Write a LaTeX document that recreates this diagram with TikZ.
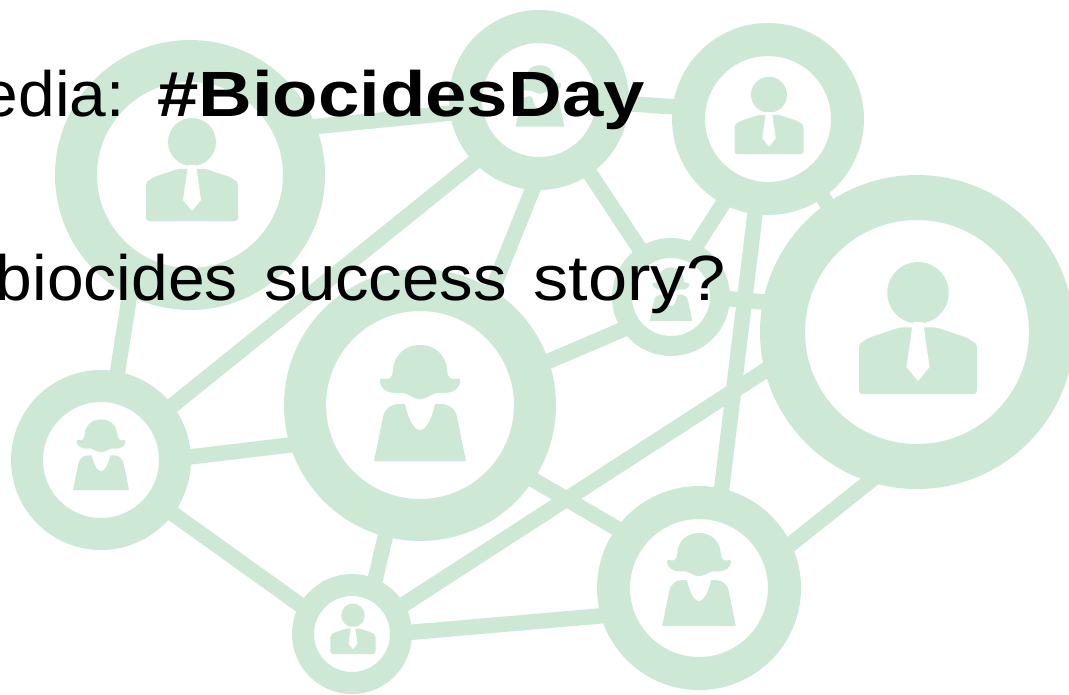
\documentclass[tikz,border=0pt]{standalone}
\usepackage{fontspec}
\usepackage{graphicx}
\setmainfont[WordSpace=1.5]{Liberation Sans}
\usetikzlibrary{backgrounds}
\definecolor{netgreen}{HTML}{CDE9D6}
\tikzset{
  x=0.75pt,y=-0.75pt,
  ring/.style n args={2}{circle,draw=netgreen,fill=white,inner sep=0pt,outer sep=0pt,
    minimum size={(#1+#2)*0.75pt},line width={(#1-#2)*0.75pt}},
  link/.style={draw=netgreen,line width=11.6pt,line cap=butt},
  lab/.style={anchor=base west,inner sep=0pt,outer sep=0pt,text=black,font=\fontsize{48pt}{54pt}\selectfont},
  pics/man/.style={code={
    \fill[netgreen] (0,-33) circle[radius=24];
    \fill[netgreen,rounded corners=2] (-46,46) -- (-46,7) -- (-38,2) -- (-14,-6) -- (14,-6) -- (38,2) -- (46,7) -- (46,46) -- cycle;
    \fill[white] (-4,-10) -- (4,-10) -- (9,25) -- (0,36) -- (-9,25) -- cycle;
  }},
  pics/woman/.style={code={
    \fill[netgreen] (0,-60) .. controls (-17,-60) and (-26,-48) .. (-27,-36)
      .. controls (-27,-29) and (-30,-24) .. (-36,-26) .. controls (-38,-27) and (-40,-27) .. (-40,-24)
      .. controls (-40,-16) and (-32,-12) .. (-24,-12) -- (-16,-12)
      .. controls (-10,-10) and (-6,-6) .. (0,-6)
      .. controls (6,-6) and (10,-10) .. (16,-12) -- (24,-12)
      .. controls (32,-12) and (40,-16) .. (40,-24) .. controls (40,-27) and (38,-27) .. (36,-26)
      .. controls (30,-24) and (27,-29) .. (27,-36)
      .. controls (26,-48) and (17,-60) .. (0,-60) -- cycle;
    \fill[netgreen] (-46,56) -- (-37,12) .. controls (-35,3) and (-28,-1) .. (-22,-1) -- (-15,-1)
      .. controls (-13,10) and (-7,25) .. (0,25) .. controls (7,25) and (13,10) .. (15,-1)
      -- (22,-1) .. controls (28,-1) and (35,3) .. (37,12) -- (46,56) -- cycle;
  }},
}
\begin{document}
\begin{tikzpicture}
\useasboundingbox (0,0) rectangle (1069,694);
% rings
\node[ring={135}{93}]  (A) at (190,175) {};
\node[ring={90}{57}]   (B) at (539,100) {};
\node[ring={96}{63}]   (C) at (768,119) {};
\node[ring={157}{112}] (D) at (917,332) {};
\node[ring={59}{39}]   (E) at (671,297) {};
\node[ring={136}{94}]  (F) at (420,405) {};
\node[ring={90}{58}]   (G) at (101,460) {};
\node[ring={60}{38}]   (H) at (352,634) {};
\node[ring={102}{69}]  (I) at (699,588) {};
% connectors
\begin{scope}[on background layer]
  \fill[white] (0,0) rectangle (1069,694);
  \draw[link] (A.24) -- (B.189);
  \draw[link] (B.-2) -- (C.172);
  \draw[link] (A.240) -- (G.79);
  \draw[link] (B.225) -- (G.37);
  \draw[link] (B.270) -- (F.56);
  \draw[link] (B.-55) -- (E.123);
  \draw[link] (C.243) -- (E.65);
  \draw[link] (C.262) -- (I.76);
  \draw[link] (C.-55) -- (D.125);
  \draw[link] (E.-1) -- (D.168);
  \draw[link] (E.216) -- (F.18.6);
  \draw[link] (G.1) -- (F.199);
  \draw[link] (G.-37) -- (H.152);
  \draw[link] (F.255) -- (H.65);
  \draw[link] (F.-34.6) -- (I.143.5);
  \draw[link] (H.29) -- (D.191.6);
  \draw[link] (H.1) -- (I.198.4);
  \draw[link] (I.23.3) -- (D.259.7);
\end{scope}
% people
\pic[scale=1]    at (192,175)   {man};
\pic[scale=0.75] at (769,119.5) {man};
\pic[scale=1.28] at (918,335)   {man};
\pic[scale=0.49] at (353,631.5) {man};
\pic[scale=1]    at (420,405)   {woman};
\pic[scale=0.61] at (101,456)   {woman};
\pic[scale=0.80] at (699,581)   {woman};
\pic[scale=0.46] at (671,295)   {woman};
\pic[scale=0.53] at (540,97)    {woman};
% text
\node[lab,xscale=1.03,transform shape] (t1) at (-18,116.5) {edia:};
\node[lab,xscale=1.162,transform shape] (t2) at (157,116.5) {\bfseries \#BiocidesDay};
\node[lab] (t3) at (-4,300.5) {\scalebox{1.03}[1]{biocides} \scalebox{1.048}[1]{success} \scalebox{1.10}[1]{story?}};
\end{tikzpicture}
\end{document}
